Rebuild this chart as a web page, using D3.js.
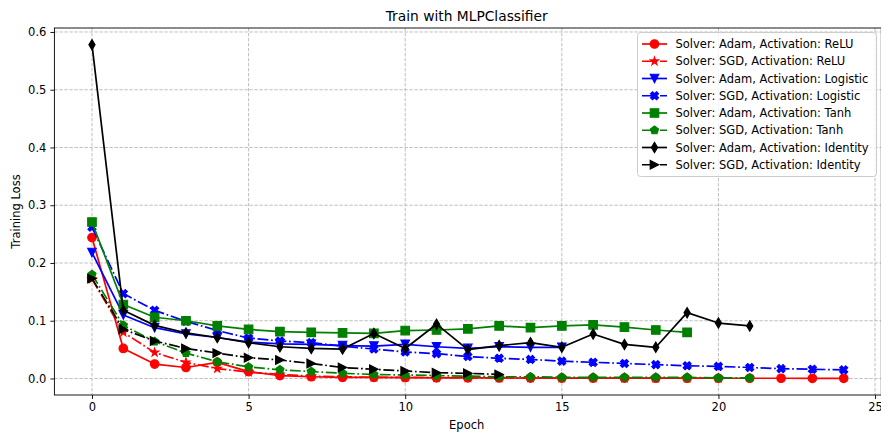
<!DOCTYPE html>
<html>
<head>
<meta charset="utf-8">
<script src="https://cdn.jsdelivr.net/npm/d3@7"></script>
<style>
  body { margin: 0; background: #fff; }
  svg { display: block; }
  text { font-family: "DejaVu Sans", sans-serif; fill: #000; }
</style>
</head>
<body>
<svg id="chart" width="881" height="435"></svg>
<script>
// Training loss per epoch for each solver / activation pair
const seriesLabels = [
  "Solver: Adam, Activation: ReLU",
  "Solver: SGD, Activation: ReLU",
  "Solver: Adam, Activation: Logistic",
  "Solver: SGD, Activation: Logistic",
  "Solver: Adam, Activation: Tanh",
  "Solver: SGD, Activation: Tanh",
  "Solver: Adam, Activation: Identity",
  "Solver: SGD, Activation: Identity"
];
const lossAdamRelu = [0.244, 0.052, 0.025, 0.019, 0.028, 0.012, 0.005, 0.003, 0.002, 0.002,
  0.0015, 0.0012, 0.001, 0.0009, 0.0008, 0.0007, 0.0006, 0.0006, 0.0005, 0.0005,
  0.0004, 0.0004, 0.0004, 0.0003, 0.0003];
const lossSgdRelu = [0.172, 0.080, 0.045, 0.028, 0.017, 0.011, 0.007, 0.004, 0.003, 0.002,
  0.002, 0.0015, 0.0012, 0.001, 0.001, 0.0009, 0.0008, 0.0007, 0.0007, 0.0006, 0.0006];
const lossAdamLogistic = [0.218, 0.110, 0.088, 0.077, 0.071, 0.063, 0.060, 0.059, 0.057, 0.056,
  0.059, 0.055, 0.052, 0.055, 0.054, 0.054];
const lossSgdLogistic = [0.262, 0.147, 0.118, 0.099, 0.083, 0.070, 0.065, 0.062, 0.056, 0.051,
  0.046, 0.043, 0.038, 0.035, 0.033, 0.030, 0.028, 0.026, 0.024, 0.022,
  0.021, 0.019, 0.017, 0.016, 0.015];
const lossAdamTanh = [0.271, 0.128, 0.106, 0.100, 0.091, 0.085, 0.081, 0.080, 0.079, 0.078,
  0.083, 0.084, 0.086, 0.091, 0.088, 0.091, 0.093, 0.089, 0.084, 0.080];
const lossSgdTanh = [0.180, 0.092, 0.064, 0.044, 0.029, 0.020, 0.015, 0.012, 0.009, 0.007,
  0.006, 0.005, 0.004, 0.003, 0.003, 0.002, 0.002, 0.002, 0.002, 0.002, 0.001, 0.001];
const lossAdamIdentity = [0.578, 0.118, 0.092, 0.079, 0.071, 0.062, 0.055, 0.052, 0.051, 0.078,
  0.052, 0.094, 0.050, 0.057, 0.062, 0.054, 0.077, 0.059, 0.054, 0.114, 0.096, 0.091];
const lossSgdIdentity = [0.173, 0.085, 0.065, 0.052, 0.044, 0.036, 0.032, 0.026, 0.019, 0.016,
  0.013, 0.010, 0.009, 0.007];

const xTicks = [0, 5, 10, 15, 20, 25];
const yTicks = [0.0, 0.1, 0.2, 0.3, 0.4, 0.5, 0.6];

const seriesValues = [lossAdamRelu, lossSgdRelu, lossAdamLogistic, lossSgdLogistic,
  lossAdamTanh, lossSgdTanh, lossAdamIdentity, lossSgdIdentity];

// Styling per series: colour, marker shape, line dash
const styles = [
  { color: "#ff0000", marker: "circle",  dash: null },
  { color: "#ff0000", marker: "star",    dash: "dashdot" },
  { color: "#0000ff", marker: "tridown", dash: null },
  { color: "#0000ff", marker: "xfill",   dash: "dashdot" },
  { color: "#008000", marker: "square",  dash: null },
  { color: "#008000", marker: "pentagon",dash: "dashdot" },
  { color: "#000000", marker: "thindiamond", dash: null },
  { color: "#000000", marker: "triright", dash: "dashdot" }
];

const series = seriesLabels.map((label, i) => ({
  label,
  points: seriesValues[i].map((v, e) => ({ epoch: e, loss: v })),
  ...styles[i]
}));

const svg = d3.select("#chart");
const plot = { left: 54.4, right: 881.3, top: 28, bottom: 395 };

const allEpochs = series.flatMap(s => s.points.map(p => p.epoch));
const allLoss = series.flatMap(s => s.points.map(p => p.loss));
const xMin = d3.min(allEpochs), xMax = d3.max(allEpochs);
const yMin = d3.min(allLoss), yMax = d3.max(allLoss);
const xPad = (xMax - xMin) * 0.05, yPad = (yMax - yMin) * 0.05;

const x = d3.scaleLinear().domain([xMin - xPad, xMax + xPad]).range([plot.left, plot.right]);
const y = d3.scaleLinear().domain([yMin - yPad, yMax + yPad]).range([plot.bottom, plot.top]);

// Grid
const grid = svg.append("g");
grid.selectAll("line.gx").data(xTicks).join("line")
  .attr("x1", d => x(d)).attr("x2", d => x(d))
  .attr("y1", plot.top).attr("y2", plot.bottom)
  .attr("stroke", "#b8b8b8").attr("stroke-width", 0.9).attr("stroke-dasharray", "3.4,1.6");
grid.selectAll("line.gy").data(yTicks).join("line")
  .attr("x1", plot.left).attr("x2", plot.right)
  .attr("y1", d => y(d)).attr("y2", d => y(d))
  .attr("stroke", "#b8b8b8").attr("stroke-width", 0.9).attr("stroke-dasharray", "3.4,1.6");

// Marker shapes, centred on the origin, s = nominal size in px
function markerPath(type, s) {
  const h = s / 2;
  const poly = pts => "M" + pts.map(p => p[0].toFixed(2) + "," + p[1].toFixed(2)).join("L") + "Z";
  switch (type) {
    case "circle":
      return `M${h},0A${h},${h} 0 1,1 ${-h},0A${h},${h} 0 1,1 ${h},0Z`;
    case "square":
      return poly([[-h, -h], [h, -h], [h, h], [-h, h]]);
    case "tridown":
      return poly([[0, h], [-h, -h], [h, -h]]);
    case "triright":
      return poly([[h, 0], [-h, -h], [-h, h]]);
    case "thindiamond": {
      const a = 0.7071 * s * 0.85;
      return poly([[0, -a], [0.6 * a, 0], [0, a], [-0.6 * a, 0]]);
    }
    case "pentagon": {
      const pts = d3.range(5).map(k => {
        const ang = -Math.PI / 2 + k * 2 * Math.PI / 5;
        return [h * Math.cos(ang), h * Math.sin(ang)];
      });
      return poly(pts);
    }
    case "star": {
      const pts = d3.range(10).map(k => {
        const r = k % 2 === 0 ? h : h * 0.381966;
        const ang = -Math.PI / 2 + k * Math.PI / 5;
        return [r * Math.cos(ang), r * Math.sin(ang)];
      });
      return poly(pts);
    }
    case "xfill": {
      const base = [[-1, -3], [1, -3], [1, -1], [3, -1], [3, 1], [1, 1],
                    [1, 3], [-1, 3], [-1, 1], [-3, 1], [-3, -1], [-1, -1]];
      const c = Math.SQRT1_2;
      return poly(base.map(([px, py]) => {
        const rx = (px * c - py * c) / 6 * s, ry = (px * c + py * c) / 6 * s;
        return [rx, ry];
      }));
    }
  }
}

const lineW = 1.7;
const dashArr = { dashdot: `${(6.4 * lineW).toFixed(1)},${(1.6 * lineW).toFixed(1)},${(1.0 * lineW).toFixed(1)},${(1.6 * lineW).toFixed(1)}` };
const markerSize = 8.6;

const line = d3.line().x(d => x(d.epoch)).y(d => y(d.loss));

const layer = svg.append("g");
series.forEach(s => {
  const g = layer.append("g");
  g.append("path").datum(s.points)
    .attr("d", line).attr("fill", "none")
    .attr("stroke", s.color).attr("stroke-width", lineW)
    .attr("stroke-linejoin", "round")
    .attr("stroke-dasharray", s.dash ? dashArr[s.dash] : null);
  g.selectAll("path.m").data(s.points).join("path")
    .attr("class", "m")
    .attr("transform", d => `translate(${x(d.epoch)},${y(d.loss)})`)
    .attr("d", markerPath(s.marker, markerSize))
    .attr("fill", s.color).attr("stroke", s.color).attr("stroke-width", 1.1)
    .attr("stroke-linejoin", "miter");
});

// Spines
const spine = svg.append("g").attr("stroke", "#000").attr("stroke-width", 0.9).attr("fill", "none");
spine.append("rect").attr("x", plot.left).attr("y", plot.top)
  .attr("width", plot.right - plot.left).attr("height", plot.bottom - plot.top);

// Axes
const xAxis = d3.axisBottom(x).tickValues(xTicks).tickFormat(d3.format("d")).tickSize(4).tickPadding(4);
const yAxis = d3.axisLeft(y).tickValues(yTicks).tickFormat(d3.format(".1f")).tickSize(4).tickPadding(4);
const gx = svg.append("g").attr("transform", `translate(0,${plot.bottom})`).call(xAxis);
const gy = svg.append("g").attr("transform", `translate(${plot.left},0)`).call(yAxis);
[gx, gy].forEach(g => {
  g.select(".domain").remove();
  g.selectAll(".tick line").attr("stroke", "#000").attr("stroke-width", 0.9);
  g.selectAll(".tick text").attr("font-size", 11.5).attr("fill", "#000")
    .style("font-family", '"DejaVu Sans", sans-serif');
});

// Titles
const cx = (plot.left + 879) / 2;
svg.append("text").attr("x", cx).attr("y", 21).attr("text-anchor", "middle")
  .attr("font-size", 13.8).text("Train with MLPClassifier");
svg.append("text").attr("x", cx).attr("y", 429).attr("text-anchor", "middle")
  .attr("font-size", 11.5).text("Epoch");
svg.append("text").attr("transform", `translate(20,${(plot.top + plot.bottom) / 2}) rotate(-90)`)
  .attr("text-anchor", "middle").attr("font-size", 11.5).text("Training Loss");

// Legend
const lg = svg.append("g");
lg.append("rect").attr("x", 637.5).attr("y", 32.5).attr("width", 239).attr("height", 144)
  .attr("rx", 3).attr("fill", "#fff").attr("fill-opacity", 0.8)
  .attr("stroke", "#cccccc").attr("stroke-width", 1);
series.forEach((s, i) => {
  const cy = 44 + i * 17.25;
  const row = lg.append("g");
  row.append("line").attr("x1", 642).attr("x2", 667).attr("y1", cy).attr("y2", cy)
    .attr("stroke", s.color).attr("stroke-width", lineW)
    .attr("stroke-dasharray", s.dash ? dashArr[s.dash] : null);
  row.append("path").attr("transform", `translate(654.5,${cy})`)
    .attr("d", markerPath(s.marker, markerSize))
    .attr("fill", s.color).attr("stroke", s.color).attr("stroke-width", 1.1);
  row.append("text").attr("x", 675.5).attr("y", cy + 4.2).attr("font-size", 11.5).text(s.label);
});
</script>
</body>
</html>
